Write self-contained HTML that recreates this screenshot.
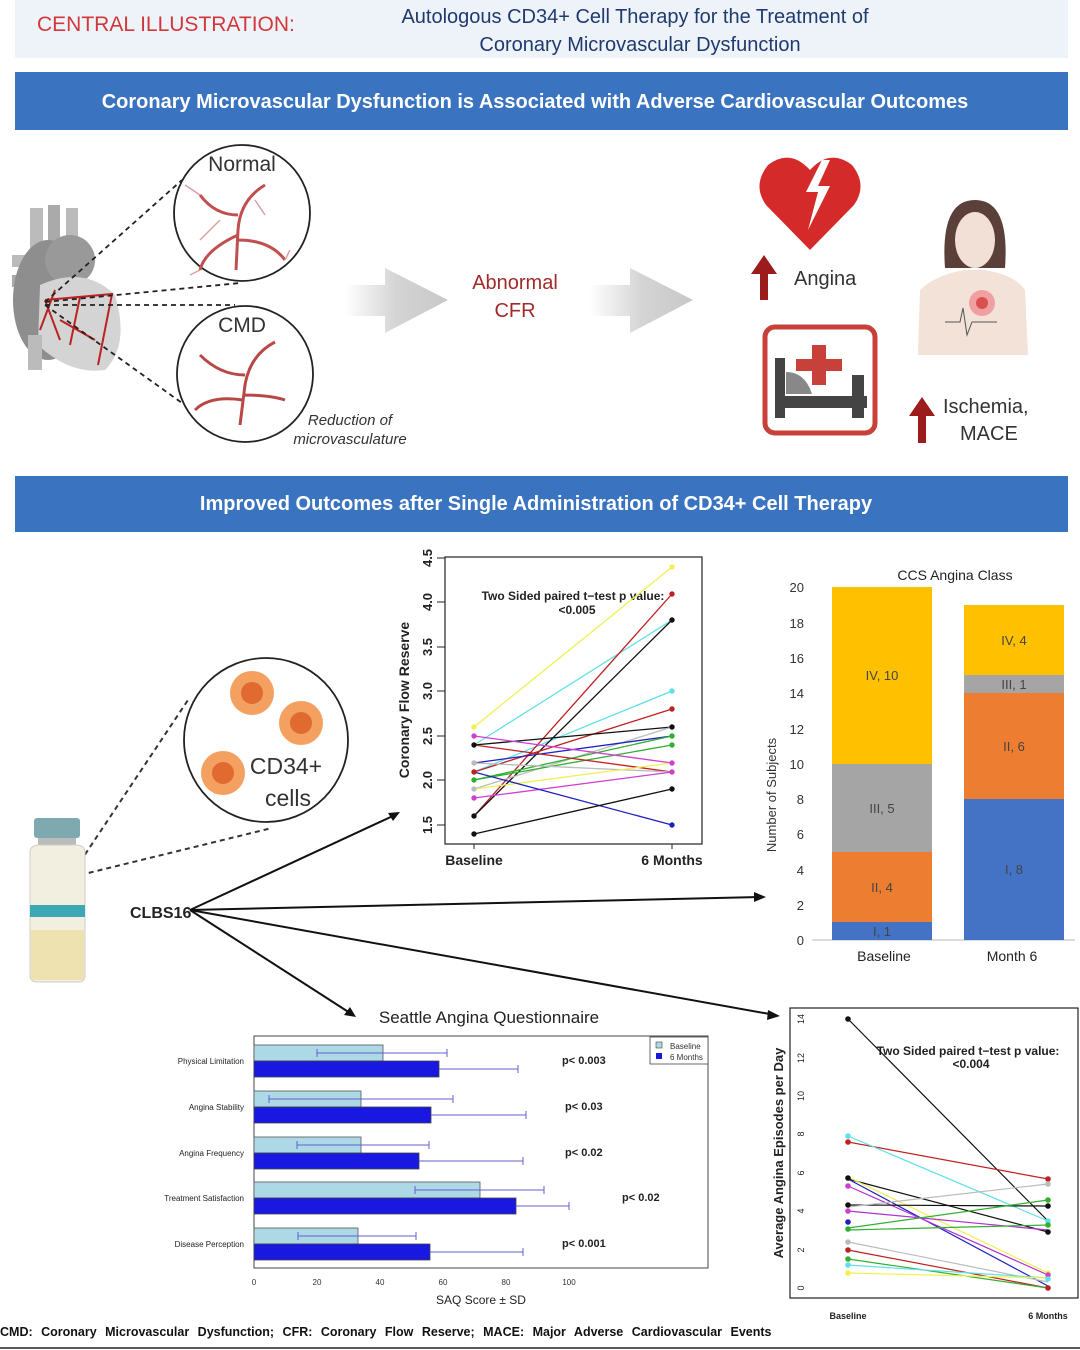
<!DOCTYPE html>
<html><head><meta charset="utf-8"><style>
html,body{margin:0;padding:0;background:#fff}
svg{display:block}
text{font-family:"Liberation Sans",sans-serif}
</style></head><body>
<svg width="1080" height="1350" viewBox="0 0 1080 1350" xmlns="http://www.w3.org/2000/svg">
<defs>
<linearGradient id="ag" x1="0" x2="1"><stop offset="0" stop-color="#fff"/><stop offset="0.5" stop-color="#d4d4d4"/><stop offset="1" stop-color="#c8c8c8"/></linearGradient>
</defs>
<rect x="15" y="0" width="1053" height="58" fill="#eef3fa"/>
<text x="37" y="31" font-size="21" fill="#d0383a">CENTRAL ILLUSTRATION:</text>
<text x="635" y="23" font-size="20" fill="#1f3a6e" text-anchor="middle">Autologous CD34+ Cell Therapy for the Treatment of</text>
<text x="640" y="51" font-size="20" fill="#1f3a6e" text-anchor="middle">Coronary Microvascular Dysfunction</text>
<rect x="15" y="72" width="1053" height="58" fill="#3a73c0"/>
<text x="535" y="108" font-size="20" fill="#fff" text-anchor="middle" font-weight="bold">Coronary Microvascular Dysfunction is Associated with Adverse Cardiovascular Outcomes</text>
<rect x="15" y="476" width="1053" height="56" fill="#3a73c0"/>
<text x="536" y="510" font-size="20" fill="#fff" text-anchor="middle" font-weight="bold">Improved Outcomes after Single Administration of CD34+ Cell Therapy</text>

<g>
<rect x="30" y="208" width="13" height="50" fill="#bbb"/><rect x="48" y="205" width="12" height="50" fill="#aaa"/><rect x="66" y="208" width="12" height="50" fill="#bbb"/>
<rect x="12" y="255" width="30" height="12" fill="#bbb"/><rect x="12" y="275" width="30" height="12" fill="#aaa"/>
<ellipse cx="48" cy="300" rx="35" ry="60" fill="#8e8e8e"/>
<ellipse cx="70" cy="260" rx="25" ry="25" fill="#999"/>
<path d="M40 285 Q85 265 115 295 Q130 345 105 370 Q70 375 38 345 Z" fill="#d4d4d4"/>
<rect x="28" y="335" width="14" height="35" fill="#bbb"/>
<path d="M45 300 L60 340 M45 300 L112 294 L98 365 M55 290 L40 330 M60 320 L95 340 M80 297 L70 345" stroke="#b22" stroke-width="2" fill="none"/>
</g>
<g stroke="#222" stroke-width="1.8" stroke-dasharray="5,4" fill="none">
<line x1="45" y1="302" x2="182" y2="180"/><line x1="45" y1="302" x2="240" y2="283"/><line x1="45" y1="305" x2="235" y2="305"/><line x1="45" y1="305" x2="182" y2="403"/>
</g>
<circle cx="242" cy="213" r="68" fill="#fff" stroke="#222" stroke-width="1.8"/>
<text x="242" y="171" font-size="21" fill="#333" text-anchor="middle">Normal</text>
<path d="M265 185 Q240 200 238 230 L236 270 M238 215 Q215 215 200 195 M238 240 Q270 240 285 260 M238 235 Q205 250 200 270" stroke="#c05050" stroke-width="3" fill="none"/>
<path d="M200 195 L185 185 M285 260 L290 250 M200 270 L190 275 M220 220 L200 240 M255 200 L265 215" stroke="#d8a0a0" stroke-width="1.5" fill="none"/>
<circle cx="245" cy="374" r="68" fill="#fff" stroke="#222" stroke-width="1.8"/>
<text x="242" y="332" font-size="21" fill="#333" text-anchor="middle">CMD</text>
<path d="M275 342 Q250 355 245 385 L240 425 M245 375 Q220 375 200 355 M243 400 Q210 395 195 410 M243 395 Q270 395 285 400" stroke="#b84848" stroke-width="3" fill="none"/>
<text x="350" y="425" font-size="15" font-style="italic" fill="#333" text-anchor="middle">Reduction of</text>
<text x="350" y="444" font-size="15" font-style="italic" fill="#333" text-anchor="middle">microvasculature</text>
<path d="M345 285 L385 285 L385 268 L448 300 L385 333 L385 316 L345 316 Z" fill="url(#ag)"/>
<path d="M590 285 L630 285 L630 268 L693 300 L630 333 L630 316 L590 316 Z" fill="url(#ag)"/>
<text x="515" y="289" font-size="20" fill="#a32a2a" text-anchor="middle">Abnormal</text>
<text x="515" y="317" font-size="20" fill="#a32a2a" text-anchor="middle">CFR</text>
<path d="M810 250 L766 205 Q752 185 768 165 Q790 148 810 170 Q830 148 852 165 Q868 185 854 205 Z" fill="#d42a2a"/>
<path d="M822 160 L806 192 L818 192 L808 230 L830 186 L818 186 L830 160 Z" fill="#fff"/>
<path d="M764 255 L751 274 L760 274 L760 300 L768 300 L768 274 L777 274 Z" fill="#9c1c1c"/>
<text x="794" y="285" font-size="20" fill="#333">Angina</text>
<rect x="765" y="327" width="110" height="106" rx="10" fill="#fff" stroke="#c8403a" stroke-width="5"/>
<path d="M812 345 h14 v14 h16 v12 h-16 v14 h-14 v-14 h-16 v-12 h16z" fill="#c8403a"/>
<rect x="775" y="358" width="10" height="60" fill="#444"/><rect x="775" y="396" width="92" height="12" fill="#444"/><rect x="852" y="375" width="12" height="43" fill="#444"/>
<path d="M786 394 L786 372 Q805 372 812 394Z" fill="#888"/>
<path d="M945 268 Q940 200 975 200 Q1010 200 1005 268 Z" fill="#5a4038"/>
<ellipse cx="975" cy="240" rx="20" ry="28" fill="#f2e0d6"/>
<path d="M918 355 L920 290 Q935 275 965 270 L985 270 Q1015 275 1025 290 L1028 355 Z" fill="#f2e2d8"/>
<circle cx="982" cy="303" r="13" fill="#f0a0a0"/><circle cx="982" cy="303" r="6" fill="#d85050"/>
<path d="M945 322 L960 322 L963 308 L967 335 L972 322 L997 322" stroke="#555" stroke-width="1" fill="none"/>
<path d="M922 397 L909 416 L918 416 L918 443 L926 443 L926 416 L935 416 Z" fill="#9c1c1c"/>
<text x="943" y="413" font-size="20" fill="#333">Ischemia,</text>
<text x="960" y="440" font-size="20" fill="#333">MACE</text>

<circle cx="266" cy="740" r="82" fill="#fff" stroke="#222" stroke-width="1.8"/>
<circle cx="252" cy="693" r="22" fill="#f3a060"/><circle cx="252" cy="693" r="11" fill="#e06a30"/>
<circle cx="301" cy="723" r="22" fill="#f3a060"/><circle cx="301" cy="723" r="11" fill="#e06a30"/>
<circle cx="223" cy="773" r="22" fill="#f3a060"/><circle cx="223" cy="773" r="11" fill="#e06a30"/>
<text x="286" y="774" font-size="23" fill="#333" text-anchor="middle">CD34+</text>
<text x="288" y="806" font-size="23" fill="#333" text-anchor="middle">cells</text>
<g stroke="#333" stroke-width="2" stroke-dasharray="5,4" fill="none"><line x1="80" y1="862" x2="188" y2="700"/><line x1="80" y1="875" x2="272" y2="828"/></g>
<rect x="34" y="818" width="46" height="20" rx="3" fill="#7fa9b0"/>
<rect x="38" y="838" width="38" height="10" fill="#bbb"/>
<path d="M30 852 Q30 845 40 845 L75 845 Q85 845 85 852 L85 975 Q85 982 78 982 L37 982 Q30 982 30 975Z" fill="#f3efe0" stroke="#ccc"/>
<rect x="30" y="905" width="55" height="12" fill="#3ba8b4"/>
<rect x="31" y="930" width="53" height="50" fill="#eee2b0"/>
<text x="130" y="918" font-size="16" font-weight="bold" fill="#222">CLBS16</text>
<g stroke="#111" stroke-width="2" fill="none">
<line x1="190" y1="910" x2="395" y2="815"/><line x1="190" y1="910" x2="760" y2="897"/><line x1="190" y1="910" x2="350" y2="1013"/><line x1="190" y1="910" x2="775" y2="1015"/>
</g>
<path d="M400 812 L388 813 L393 821Z M766 897 L754 892 L754 902Z M356 1017 L344 1015 L350 1007Z M780 1016 L768 1010 L767 1020Z" fill="#111"/>

<rect x="445" y="557" width="257" height="287" fill="none" stroke="#222" stroke-width="1.2"/>
<g font-size="13" fill="#222" font-weight="bold">
<text transform="translate(432,825) rotate(-90)" text-anchor="middle">1.5</text>
<text transform="translate(432,780) rotate(-90)" text-anchor="middle">2.0</text>
<text transform="translate(432,736) rotate(-90)" text-anchor="middle">2.5</text>
<text transform="translate(432,691) rotate(-90)" text-anchor="middle">3.0</text>
<text transform="translate(432,647) rotate(-90)" text-anchor="middle">3.5</text>
<text transform="translate(432,602) rotate(-90)" text-anchor="middle">4.0</text>
<text transform="translate(432,558) rotate(-90)" text-anchor="middle">4.5</text>
<text transform="translate(409,700) rotate(-90)" text-anchor="middle" font-size="14">Coronary Flow Reserve</text>
<text x="474" y="865" text-anchor="middle" font-size="14">Baseline</text>
<text x="672" y="865" text-anchor="middle" font-size="14">6 Months</text>
<text x="573" y="600" text-anchor="middle" font-size="12">Two Sided paired t−test p value:</text>
<text x="577" y="614" text-anchor="middle" font-size="12">&lt;0.005</text>
</g>
<g stroke="#222" stroke-width="1"><line x1="474" y1="844" x2="474" y2="849"/><line x1="672" y1="844" x2="672" y2="849"/>
<line x1="437" y1="825" x2="445" y2="825"/><line x1="437" y1="780" x2="445" y2="780"/><line x1="437" y1="736" x2="445" y2="736"/><line x1="437" y1="691" x2="445" y2="691"/><line x1="437" y1="647" x2="445" y2="647"/><line x1="437" y1="602" x2="445" y2="602"/><line x1="437" y1="558" x2="445" y2="558"/></g>
<g stroke-width="1.3">
<line x1="474" y1="727" x2="672" y2="567" stroke="#f0f050"/>
<line x1="474" y1="745" x2="672" y2="620" stroke="#60e0e8"/>
<line x1="474" y1="772" x2="672" y2="691" stroke="#60e0e8"/>
<line x1="474" y1="816" x2="672" y2="594" stroke="#c02020"/>
<line x1="474" y1="816" x2="672" y2="620" stroke="#111"/>
<line x1="474" y1="772" x2="672" y2="709" stroke="#c02020"/>
<line x1="474" y1="745" x2="672" y2="727" stroke="#111"/>
<line x1="474" y1="789" x2="672" y2="727" stroke="#bbb"/>
<line x1="474" y1="763" x2="672" y2="736" stroke="#2020c0"/>
<line x1="474" y1="780" x2="672" y2="736" stroke="#30b030"/>
<line x1="474" y1="780" x2="672" y2="745" stroke="#30b030"/>
<line x1="474" y1="736" x2="672" y2="763" stroke="#d040d0"/>
<line x1="474" y1="745" x2="672" y2="772" stroke="#c02020"/>
<line x1="474" y1="763" x2="672" y2="772" stroke="#bbb"/>
<line x1="474" y1="789" x2="672" y2="763" stroke="#f0f050"/>
<line x1="474" y1="798" x2="672" y2="772" stroke="#d040d0"/>
<line x1="474" y1="772" x2="672" y2="825" stroke="#2020c0"/>
<line x1="474" y1="834" x2="672" y2="789" stroke="#111"/>
</g>
<g>
<circle cx="474" cy="727" r="2.7" fill="#f0f050"/><circle cx="474" cy="736" r="2.7" fill="#d040d0"/><circle cx="474" cy="745" r="2.7" fill="#111"/><circle cx="474" cy="763" r="2.7" fill="#bbb"/><circle cx="474" cy="772" r="2.7" fill="#c02020"/><circle cx="474" cy="780" r="2.7" fill="#30b030"/><circle cx="474" cy="789" r="2.7" fill="#bbb"/><circle cx="474" cy="798" r="2.7" fill="#d040d0"/><circle cx="474" cy="816" r="2.7" fill="#111"/><circle cx="474" cy="834" r="2.7" fill="#111"/>
<circle cx="672" cy="567" r="2.7" fill="#f0f050"/><circle cx="672" cy="594" r="2.7" fill="#c02020"/><circle cx="672" cy="620" r="2.7" fill="#111"/><circle cx="672" cy="691" r="2.7" fill="#60e0e8"/><circle cx="672" cy="709" r="2.7" fill="#c02020"/><circle cx="672" cy="727" r="2.7" fill="#111"/><circle cx="672" cy="736" r="2.7" fill="#30b030"/><circle cx="672" cy="745" r="2.7" fill="#30b030"/><circle cx="672" cy="763" r="2.7" fill="#d040d0"/><circle cx="672" cy="772" r="2.7" fill="#d040d0"/><circle cx="672" cy="789" r="2.7" fill="#111"/><circle cx="672" cy="825" r="2.7" fill="#2020c0"/>
</g>

<text x="955" y="580" font-size="14" fill="#222" text-anchor="middle">CCS Angina Class</text>
<line x1="812" y1="940" x2="1075" y2="940" stroke="#bbb"/>
<g font-size="13" fill="#333" text-anchor="end">
<text x="804" y="945">0</text><text x="804" y="910">2</text><text x="804" y="875">4</text><text x="804" y="839">6</text><text x="804" y="804">8</text><text x="804" y="769">10</text><text x="804" y="734">12</text><text x="804" y="698">14</text><text x="804" y="663">16</text><text x="804" y="628">18</text><text x="804" y="592">20</text>
</g>
<text transform="translate(776,795) rotate(-90)" font-size="13" fill="#333" text-anchor="middle">Number of Subjects</text>
<rect x="832" y="922" width="100" height="18" fill="#4472c4"/>
<rect x="832" y="852" width="100" height="70" fill="#ed7d31"/>
<rect x="832" y="764" width="100" height="88" fill="#a5a5a5"/>
<rect x="832" y="587" width="100" height="177" fill="#ffc000"/>
<rect x="964" y="799" width="100" height="141" fill="#4472c4"/>
<rect x="964" y="693" width="100" height="106" fill="#ed7d31"/>
<rect x="964" y="675" width="100" height="18" fill="#a5a5a5"/>
<rect x="964" y="605" width="100" height="70" fill="#ffc000"/>
<g font-size="13" fill="#444" text-anchor="middle">
<text x="882" y="936">I, 1</text><text x="882" y="892">II, 4</text><text x="882" y="813">III, 5</text><text x="882" y="680">IV, 10</text>
<text x="1014" y="874">I, 8</text><text x="1014" y="751">II, 6</text><text x="1014" y="689">III, 1</text><text x="1014" y="645">IV, 4</text>
</g>
<text x="884" y="961" font-size="14" fill="#222" text-anchor="middle">Baseline</text>
<text x="1012" y="961" font-size="14" fill="#222" text-anchor="middle">Month 6</text>

<text x="489" y="1023" font-size="17" fill="#222" text-anchor="middle">Seattle Angina Questionnaire</text>
<rect x="254" y="1036" width="454" height="232" fill="none" stroke="#444"/>
<g fill="#add8e6" stroke="#555" stroke-width="0.8">
<rect x="254" y="1045" width="129" height="16"/><rect x="254" y="1091" width="107" height="16"/><rect x="254" y="1137" width="107" height="16"/><rect x="254" y="1182" width="226" height="16"/><rect x="254" y="1228" width="104" height="16"/>
</g>
<g fill="#1818e0" stroke="#444" stroke-width="0.8">
<rect x="254" y="1061" width="185" height="16"/><rect x="254" y="1107" width="177" height="16"/><rect x="254" y="1153" width="165" height="16"/><rect x="254" y="1198" width="262" height="16"/><rect x="254" y="1244" width="176" height="16"/>
</g>
<g stroke="#6060d0" stroke-width="1">
<path d="M317 1053 H447 M317 1049 v8 M447 1049 v8"/><path d="M439 1069 H518 M518 1065 v8"/>
<path d="M269 1099 H453 M269 1095 v8 M453 1095 v8"/><path d="M431 1115 H526 M526 1111 v8"/>
<path d="M297 1145 H429 M297 1141 v8 M429 1141 v8"/><path d="M419 1161 H523 M523 1157 v8"/>
<path d="M415 1190 H544 M415 1186 v8 M544 1186 v8"/><path d="M516 1206 H569 M569 1202 v8"/>
<path d="M298 1236 H416 M298 1232 v8 M416 1232 v8"/><path d="M430 1252 H523 M523 1248 v8"/>
</g>
<g font-size="8" fill="#222" text-anchor="end">
<text x="244" y="1064">Physical Limitation</text><text x="244" y="1110">Angina Stability</text><text x="244" y="1156">Angina Frequency</text><text x="244" y="1201">Treatment Satisfaction</text><text x="244" y="1247">Disease Perception</text>
</g>
<g font-size="11" font-weight="bold" fill="#222">
<text x="562" y="1064">p&lt; 0.003</text><text x="565" y="1110">p&lt; 0.03</text><text x="565" y="1156">p&lt; 0.02</text><text x="622" y="1201">p&lt; 0.02</text><text x="562" y="1247">p&lt; 0.001</text>
</g>
<rect x="650" y="1037" width="58" height="27" fill="#fff" stroke="#444" stroke-width="0.8"/>
<rect x="656" y="1042" width="6" height="6" fill="#add8e6" stroke="#444" stroke-width="0.6"/><rect x="656" y="1053" width="6" height="6" fill="#1818e0"/>
<text x="670" y="1049" font-size="8" fill="#333">Baseline</text><text x="670" y="1060" font-size="8" fill="#333">6 Months</text>
<g font-size="8" fill="#333" text-anchor="middle">
<text x="254" y="1285">0</text><text x="317" y="1285">20</text><text x="380" y="1285">40</text><text x="443" y="1285">60</text><text x="506" y="1285">80</text><text x="569" y="1285">100</text>
</g>
<text x="481" y="1304" font-size="12" fill="#222" text-anchor="middle">SAQ Score ± SD</text>

<rect x="790" y="1008" width="288" height="290" fill="none" stroke="#222" stroke-width="1.2"/>
<g font-size="9" fill="#222">
<text transform="translate(804,1288) rotate(-90)" text-anchor="middle">0</text>
<text transform="translate(804,1250) rotate(-90)" text-anchor="middle">2</text>
<text transform="translate(804,1211) rotate(-90)" text-anchor="middle">4</text>
<text transform="translate(804,1173) rotate(-90)" text-anchor="middle">6</text>
<text transform="translate(804,1134) rotate(-90)" text-anchor="middle">8</text>
<text transform="translate(804,1096) rotate(-90)" text-anchor="middle">10</text>
<text transform="translate(804,1058) rotate(-90)" text-anchor="middle">12</text>
<text transform="translate(804,1019) rotate(-90)" text-anchor="middle">14</text>
</g>
<text transform="translate(783,1153) rotate(-90)" font-size="13" font-weight="bold" fill="#222" text-anchor="middle">Average Angina Episodes per Day</text>
<text x="848" y="1319" font-size="9" font-weight="bold" fill="#222" text-anchor="middle">Baseline</text>
<text x="1048" y="1319" font-size="9" font-weight="bold" fill="#222" text-anchor="middle">6 Months</text>
<text x="968" y="1055" font-size="12" font-weight="bold" fill="#222" text-anchor="middle">Two Sided paired t−test p value:</text>
<text x="971" y="1068" font-size="12" font-weight="bold" fill="#222" text-anchor="middle">&lt;0.004</text>
<g stroke-width="1.2">
<line x1="848" y1="1019" x2="1048" y2="1221" stroke="#111"/>
<line x1="848" y1="1142" x2="1048" y2="1179" stroke="#c02020"/>
<line x1="848" y1="1136" x2="1048" y2="1221" stroke="#60e0e8"/>
<line x1="848" y1="1179" x2="1048" y2="1232" stroke="#111"/>
<line x1="848" y1="1177" x2="1048" y2="1273" stroke="#f0f050"/>
<line x1="848" y1="1179" x2="1048" y2="1286" stroke="#2020c0"/>
<line x1="848" y1="1186" x2="1048" y2="1275" stroke="#b030d0"/>
<line x1="848" y1="1205" x2="1048" y2="1206" stroke="#111"/>
<line x1="848" y1="1207" x2="1048" y2="1184" stroke="#bbb"/>
<line x1="848" y1="1211" x2="1048" y2="1230" stroke="#b030d0"/>
<line x1="848" y1="1228" x2="1048" y2="1200" stroke="#30b030"/>
<line x1="848" y1="1230" x2="1048" y2="1225" stroke="#30b030"/>
<line x1="848" y1="1242" x2="1048" y2="1282" stroke="#bbb"/>
<line x1="848" y1="1250" x2="1048" y2="1288" stroke="#c02020"/>
<line x1="848" y1="1259" x2="1048" y2="1288" stroke="#30b030"/>
<line x1="848" y1="1265" x2="1048" y2="1278" stroke="#60e0e8"/>
<line x1="848" y1="1273" x2="1048" y2="1278" stroke="#f0f050"/>
</g>
<g>
<circle cx="848" cy="1019" r="2.8" fill="#111"/><circle cx="848" cy="1136" r="2.8" fill="#60e0e8"/><circle cx="848" cy="1142" r="2.8" fill="#c02020"/><circle cx="848" cy="1178" r="2.8" fill="#111"/><circle cx="848" cy="1186" r="2.8" fill="#d040d0"/><circle cx="848" cy="1205" r="2.8" fill="#111"/><circle cx="848" cy="1211" r="2.8" fill="#d040d0"/><circle cx="848" cy="1222" r="2.8" fill="#2020c0"/><circle cx="848" cy="1229" r="2.8" fill="#30b030"/><circle cx="848" cy="1242" r="2.8" fill="#bbb"/><circle cx="848" cy="1250" r="2.8" fill="#c02020"/><circle cx="848" cy="1259" r="2.8" fill="#30b030"/><circle cx="848" cy="1265" r="2.8" fill="#60e0e8"/><circle cx="848" cy="1273" r="2.8" fill="#f0f050"/>
<circle cx="1048" cy="1179" r="2.8" fill="#c02020"/><circle cx="1048" cy="1184" r="2.8" fill="#bbb"/><circle cx="1048" cy="1200" r="2.8" fill="#30b030"/><circle cx="1048" cy="1206" r="2.8" fill="#111"/><circle cx="1048" cy="1221" r="2.8" fill="#60e0e8"/><circle cx="1048" cy="1225" r="2.8" fill="#30b030"/><circle cx="1048" cy="1232" r="2.8" fill="#111"/><circle cx="1048" cy="1273" r="2.8" fill="#f0f050"/><circle cx="1048" cy="1275" r="2.8" fill="#d040d0"/><circle cx="1048" cy="1279" r="2.8" fill="#60e0e8"/><circle cx="1048" cy="1288" r="2.8" fill="#c02020"/>
</g>

<text x="0" y="1336" font-size="12.5" font-weight="bold" fill="#111" word-spacing="5">CMD: Coronary Microvascular Dysfunction; CFR: Coronary Flow Reserve; MACE: Major Adverse Cardiovascular Events</text>
<line x1="0" y1="1348" x2="1080" y2="1348" stroke="#222" stroke-width="1.5"/>
</svg>
</body></html>
